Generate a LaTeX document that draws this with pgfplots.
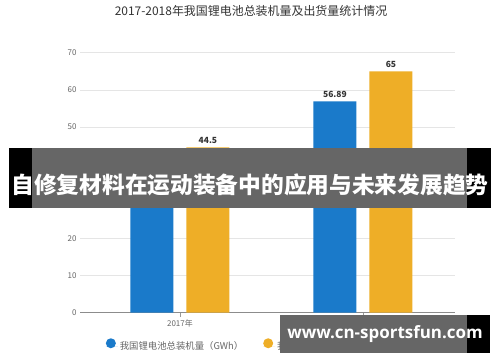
\documentclass[border=0pt]{standalone}
\usepackage{pgfplots}
\pgfplotsset{compat=1.18}
\usepackage{fontspec}
\setmainfont{Noto Sans CJK SC}
\newfontfamily\wfont{Open Sans}
\definecolor{cblue}{HTML}{1A7ACA}
\definecolor{corange}{HTML}{EEAE27}
\definecolor{tgray}{HTML}{666666}
\begin{document}
\begin{tikzpicture}[x=1bp,y=1bp]
\useasboundingbox (0,0) rectangle (500,362);
\fill[white] (0,0) rectangle (500,362);
\node[text=black!80, font=\fontsize{12}{14}\selectfont] at (251,351) {2017-2018年我国锂电池总装机量及出货量统计情况};
\begin{axis}[
  at={(80bp,49.3bp)}, anchor=south west,
  scale only axis, width=375bp, height=260bp,
  ybar=13bp, bar width=43bp,
  xmin=-0.546, xmax=1.503, ymin=0, ymax=70,
  xtick={0,1}, xticklabels={2017年,2018年},
  ytick={0,10,...,70},
  axis line style={draw=none},
  axis x line*=bottom, axis y line*=left,
  ymajorgrids, grid style={draw=black!10, line width=0.6pt},
  major x tick style={draw=black!40, line width=0.6pt},
  x tick style={draw=black!40}, y tick style={draw=none},
  major tick length=4bp,
  xtick align=outside,
  tick label style={text=tgray, font=\fontsize{8}{10}\selectfont},
  /pgf/number format/assume math mode=true,
  ylabel={单位：GWh}, ylabel style={text=tgray, font=\fontsize{8}{10}\selectfont, at={(axis description cs:-0.075,0.5)}},
  nodes near coords,
  nodes near coords style={text=black!80, font=\bfseries\fontsize{8.5}{10}\selectfont, /pgf/number format/assume math mode=true},
  point meta=explicit symbolic,
  legend columns=2,
  legend style={at={(axis description cs:0.452,-0.127)}, anchor=center, draw=none, fill=none,
    font=\fontsize{9.4}{11}\selectfont, text=tgray, /tikz/every even column/.append style={column sep=18bp}},
  legend image code/.code={\fill[#1,draw=none] (0bp,0.32em) circle (5bp); \path (-5bp,0) -- (7bp,0);},
  clip=false,
]
\draw[black!45, line width=0.7pt] (axis cs:-0.546,0) -- (axis cs:1.503,0);
\addplot[fill=cblue, draw=none] coordinates {(0,36.26) [36.26] (1,56.89) [56.89]};
\addplot[fill=corange, draw=none] coordinates {(0,44.5) [44.5] (1,65) [65]};
\legend{我国锂电池总装机量（GWh）,我国锂电池出货量（GWh）}
\end{axis}
% overlay banners
\fill[black] (9,154) rectangle (491,214);
\fill[white] (32,154) rectangle (467,214);
\fill[black, opacity=0.6] (32,154) rectangle (467,214);
\node[text=white, font=\bfseries\fontsize{22.8}{24}\selectfont, inner sep=0pt] at (250,177) {自修复材料在运动装备中的应用与未来发展趋势};
\fill[black] (280,9) rectangle (490,47);
\fill[white] (280,9) rectangle (467,47);
\fill[black, opacity=0.6] (280,9) rectangle (467,47);
\node[text=white, font=\wfont\bfseries\fontsize{17}{20}\selectfont, inner sep=0pt] at (385,28) {www.cn-sportsfun.com};
\end{tikzpicture}
\end{document}
